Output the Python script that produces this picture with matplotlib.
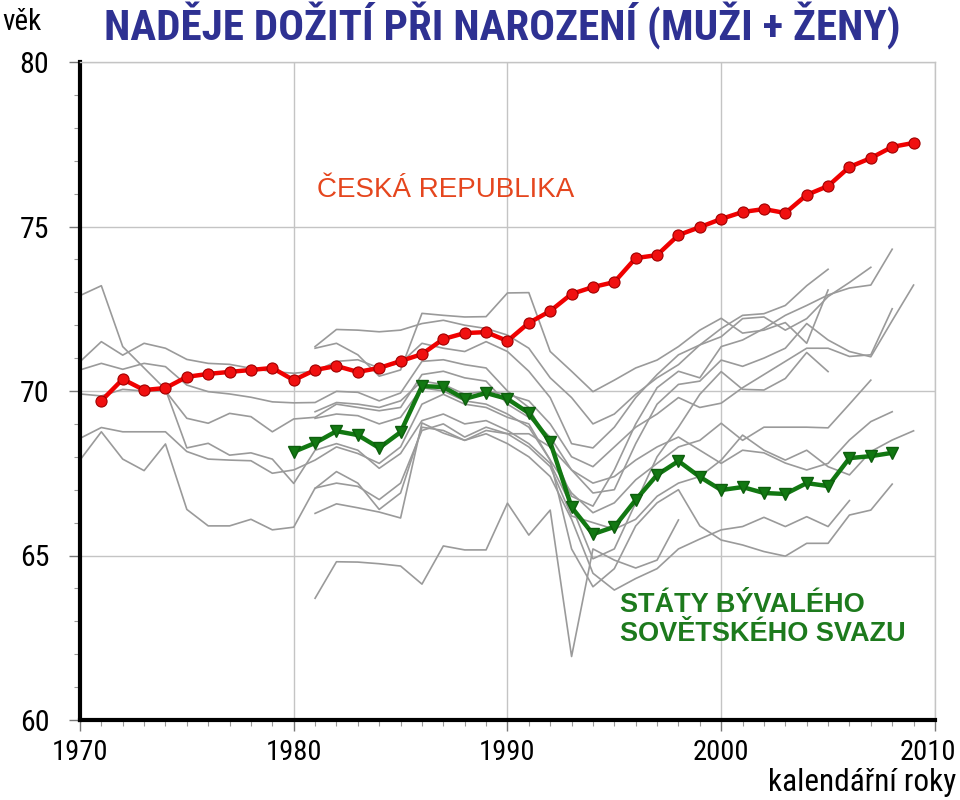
import matplotlib
matplotlib.use('Agg')
import matplotlib.pyplot as plt
from matplotlib.ticker import MultipleLocator
from matplotlib.transforms import ScaledTranslation
from matplotlib import font_manager

# Look for a narrow / condensed face (reference uses Arial Narrow look)
def find_face(bold):
    prefs = ['LiberationSansNarrow', 'RobotoCondensed', 'DejaVuSansCondensed', 'OpenSansCondensed']
    for p in prefs:
        for f in font_manager.fontManager.ttflist:
            base = f.fname.split('/')[-1].replace('-', '').replace('_', '')
            if base.startswith(p):
                is_bold = 'Bold' in base and 'Oblique' not in base and 'Italic' not in base
                plain = ('Regular' in base or base[len(p):len(p) + 4] == '.ttf') and 'Italic' not in base
                if bold and is_bold:
                    return f.fname
                if not bold and plain:
                    return f.fname
    return None

narrow_reg = find_face(False)
narrow_bold = find_face(True)

def fp(size, bold=False):
    path = narrow_bold if bold else narrow_reg
    if path:
        return font_manager.FontProperties(fname=path, size=size)
    return font_manager.FontProperties(family=['Liberation Sans', 'DejaVu Sans'], size=size * 0.85,
                                       weight='bold' if bold else 'normal')

plt.rcParams['font.family'] = ['Liberation Sans', 'DejaVu Sans']

# Data: Czech Republic 1971-2009
cz_years = list(range(1971, 2010))
cz = [69.70, 70.36, 70.03, 70.09, 70.43, 70.52, 70.58, 70.64, 70.70, 70.33,
      70.64, 70.76, 70.58, 70.70, 70.91, 71.12, 71.58, 71.76, 71.79, 71.52,
      72.07, 72.43, 72.95, 73.16, 73.31, 74.04, 74.13, 74.74, 74.98, 75.23,
      75.44, 75.53, 75.41, 75.96, 76.23, 76.81, 77.08, 77.42, 77.54]

# Former USSR (average) 1980-2008
su_years = list(range(1980, 2009))
su = [68.15, 68.42, 68.78, 68.66, 68.27, 68.75, 70.15, 70.12, 69.76, 69.94,
      69.76, 69.33, 68.45, 66.47, 65.65, 65.87, 66.69, 67.45, 67.87, 67.39,
      66.99, 67.08, 66.90, 66.87, 67.20, 67.11, 67.96, 68.02, 68.12]

# Individual former Soviet states (first year, values)
st01 = (1970, [72.9, 73.2, 71.35, 70.7, 70.05, 68.27, 68.41, 68.05, 68.12, 67.93, 67.19,
               68.2, 68.4, 68.2, 67.65, 68.1, 69.1, 69.3, 69.0, 69.1, 68.8,
               68.4, 67.8, 66.5, 64.9, 65.2, 66.6, 68.0, 68.9, 69.9, 70.59,
               70.05, 70.03, 70.38, 71.17, 70.59])
st02 = (1970, [70.89, 71.50, 71.09, 71.45, 71.30, 70.96, 70.84, 70.81, 70.69, 70.59, 70.54,
               70.6, 70.9, 70.95, 70.7, 70.85, 71.45, 71.3, 71.2, 71.5, 71.2,
               70.6, 69.8, 68.4, 68.27, 68.9, 69.8, 70.5, 71.1, 71.4, 71.65,
               72.2, 72.25, 71.85, 72.2, 72.87, 73.3, 73.76])
st03 = (1970, [70.64, 70.84, 70.66, 70.84, 70.74, 70.18, 69.98, 69.91, 69.81, 69.67, 69.64,
               69.65, 69.99, 69.96, 69.7, 69.94, 70.9, 70.95, 70.8, 70.7, 70.0,
               69.5, 68.3, 66.8, 66.5, 67.6, 69.0, 70.1, 70.6, 70.4, 71.35,
               71.55, 71.9, 72.3, 72.6, 72.92, 73.13, 73.22, 74.31])
st04 = (1970, [69.91, 69.85, 70.05, 70.0, 70.0, 69.17, 69.02, 69.32, 69.22, 68.76, 69.15,
               69.2, 69.6, 69.5, 69.4, 69.5, 70.5, 70.6, 70.4, 70.3, 69.6,
               69.2, 68.6, 67.6, 66.9, 67.0, 68.4, 69.6, 70.2, 70.3, 70.94,
               70.75, 71.0, 71.3, 72.05, 71.55, 71.2, 71.04, 72.14, 73.22])
st05 = (1970, [68.56, 68.89, 68.76, 68.76, 68.76, 68.16, 67.93, 67.9, 67.88, 67.50, 67.6,
               67.9, 68.3, 68.1, 67.8, 68.3, 69.6, 69.9, 69.6, 69.5, 69.2,
               69.0, 67.9, 65.2, 64.05, 64.6, 65.9, 66.6, 67.0, 65.9, 65.47,
               65.32, 65.12, 64.98, 65.37, 65.37, 66.23, 66.38, 67.17])
st06 = (1970, [67.9, 68.76, 67.93, 67.58, 68.39, 66.40, 65.90, 65.90, 66.10, 65.78, 65.86,
               67.05, 67.2, 67.1, 66.7, 67.2, 68.8, 69.0, 68.6, 68.9, 68.7,
               68.3, 67.7, 66.2, 66.0, 65.8, 66.1, 66.8, 67.2, 67.4, 67.9,
               68.66, 68.2, 67.9, 68.2, 67.7, 67.45, 68.16, 68.51, 68.79])
st07 = (1981, [71.3, 71.45, 71.1, 70.45, 70.64, 72.36, 72.3, 72.25, 72.26, 72.98,
               72.99, 71.2, 70.6, 69.98, 70.33, 70.7, 70.94, 71.35, 71.85, 72.21,
               71.76, 71.85, 72.08, 71.45, 73.07])
st08 = (1981, [71.35, 71.87, 71.85, 71.8, 71.85, 72.05, 72.15, 72.0, 71.9, 71.7,
               71.3, 70.4, 69.8, 69.0, 69.3, 69.9, 70.4, 70.8, 71.4, 71.9,
               72.3, 72.35, 72.6, 73.2, 73.7])
st09 = (1981, [69.37, 69.65, 69.6, 69.5, 69.7, 70.3, 70.2, 69.9, 70.0, 69.9,
               69.7, 69.0, 68.0, 67.7, 68.3, 68.9, 69.3, 69.8, 69.5, 69.63,
               70.1, 70.5, 70.9, 71.3, 71.3, 71.05, 71.1, 72.5])
st10 = (1981, [69.17, 69.3, 69.25, 69.0, 69.2, 70.1, 70.0, 69.7, 69.6, 69.3,
               68.9, 67.9, 66.9, 66.3, 66.6, 67.3, 67.8, 68.3, 68.5, 69.02,
               68.5, 68.9, 68.9, 68.9, 68.88, 69.6, 70.33])
st11 = (1981, [67.04, 67.55, 67.2, 66.4, 66.9, 68.9, 68.8, 68.5, 68.7, 68.4,
               68.0, 67.4, 66.1, 64.46, 63.95, 64.3, 64.6, 65.2, 65.5, 65.78,
               65.88, 66.16, 65.88, 66.18, 65.88, 66.67])
st12 = (1981, [66.28, 66.57, 66.45, 66.32, 66.14, 69.03, 68.72, 68.5, 68.8, 68.7,
               68.7, 68.3, 67.6, 67.2, 67.4, 67.9, 68.3, 68.6, 68.2, 67.8,
               68.2, 68.12, 67.81, 67.6, 67.80, 68.51, 69.07, 69.37])
st13 = (1981, [63.70, 64.81, 64.8, 64.75, 64.68, 64.13, 65.29, 65.17, 65.17, 66.59,
               65.62, 66.38, 61.93, 65.2, 64.86, 64.62, 64.86, 66.08])
states = [st01, st02, st03, st04, st05, st06, st07, st08, st09, st10, st11, st12, st13]

# Plotting
fig = plt.figure(figsize=(9.6, 8), dpi=100)
ax = fig.add_axes([0.0833, 0.1, 0.8906, 0.8225])

for start, vals in states:
    ax.plot(range(start, start + len(vals)), vals, color='#9a9a9a', lw=1.2, zorder=2)

ax.plot(su_years, su, color='#127812', lw=3.2, marker='v', ms=8,
        mfc='#127812', mec='#0d5e0d', zorder=4)
ax.plot(cz_years, cz, color='#f00000', lw=3.2, marker='o', ms=8,
        mfc='#f01010', mec='#a00000', mew=0.8, zorder=5)

ax.set_xlim(1970, 2010)
ax.set_ylim(60, 80)
ax.set_xticks([1970, 1980, 1990, 2000, 2010])
ax.xaxis.set_minor_locator(MultipleLocator(1))
ax.yaxis.set_major_locator(MultipleLocator(5))
ax.yaxis.set_minor_locator(MultipleLocator(1))
ax.grid(True, which='major', color='#c4c4c4', lw=1)
ax.set_axisbelow(True)

for s in ['left', 'bottom']:
    ax.spines[s].set_linewidth(3)
    ax.spines[s].set_color('black')
for s in ['top', 'right']:
    ax.spines[s].set_linewidth(1)
    ax.spines[s].set_color('#c4c4c4')

ax.tick_params(axis='both', which='major', direction='out',
               length=8, width=1, color='#777777')
ax.tick_params(axis='both', which='minor', direction='out', length=4,
               width=0.8, color='#999999')
ax.tick_params(axis='y', which='major', pad=14)
ax.tick_params(axis='x', which='major', pad=6)
for lab in ax.get_xticklabels():
    lab.set_fontproperties(fp(20.5))
for lab in ax.get_yticklabels():
    lab.set_fontproperties(fp(21.5))

# nudge the 2010 label so it stays inside the figure
last = ax.xaxis.get_major_ticks()[4].label1
last.set_transform(last.get_transform() + ScaledTranslation(-5 / 72, 0, fig.dpi_scale_trans))

ax.text(1981.1, 76.1, 'ČESKÁ REPUBLIKA', color='#e5461e', fontsize=20,
        ha='left', va='center')
ax.text(1995.25, 63.05, 'STÁTY BÝVALÉHO\nSOVĚTSKÉHO SVAZU', color='#1d7a1d',
        fontsize=19.5, fontweight='bold', ha='left', va='center', linespacing=1.15)

fig.text(0.523, 0.968, 'NADĚJE DOŽITÍ PŘI NAROZENÍ (MUŽI + ŽENY)', color='#2e3192',
         fontproperties=fp(31, bold=True), ha='center', va='center')
fig.text(0.002, 0.972, 'věk', fontproperties=fp(21), ha='left', va='center')
fig.text(0.996, 0.022, 'kalendářní roky', fontproperties=fp(22.5), ha='right', va='center')

plt.savefig('out.png')
plt.close()
